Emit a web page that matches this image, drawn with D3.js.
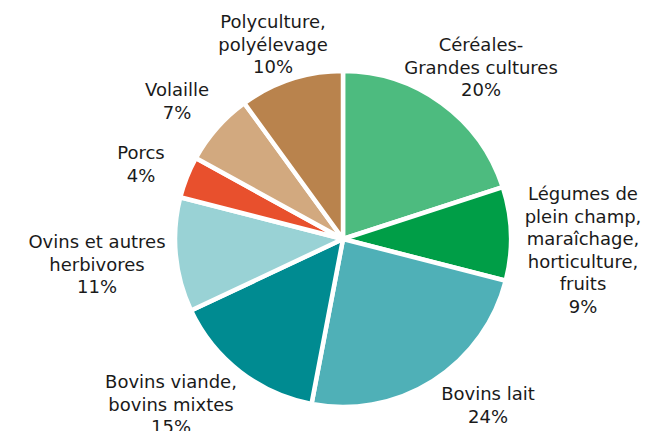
<!DOCTYPE html>
<html><head><meta charset="utf-8">
<script src="https://cdn.jsdelivr.net/npm/d3@7"></script>
<style>
html,body{margin:0;padding:0;background:#fff;}
svg{display:block;}
text{font-family:"DejaVu Sans",Verdana,sans-serif;font-size:18px;fill:#1a1a1a;}
</style></head>
<body>
<svg id="chart" width="663" height="431"></svg>
<script>
const categories = [
  ["Céréales-", "Grandes cultures"],
  ["Légumes de", "plein champ,", "maraîchage,", "horticulture,", "fruits"],
  ["Bovins lait"],
  ["Bovins viande,", "bovins mixtes"],
  ["Ovins et autres", "herbivores"],
  ["Porcs"],
  ["Volaille"],
  ["Polyculture,", "polyélevage"]
];
const values = [20, 9, 24, 15, 11, 4, 7, 10];
const colors = ["#4dbb7f", "#009e47", "#4fb0b7", "#008b91", "#99d2d5", "#e8502d", "#d2a97f", "#b9834d"];

// label layout: centre x and baseline of first line
const labelPos = [[481, 51], [583, 200], [488, 400], [171, 388], [97, 248], [141, 159], [177, 96], [273, 28]];
const lineH = 22.5;

const svg = d3.select("#chart");
const cx = 343, cy = 239, R = 168;
const pie = d3.pie().sort(null).value(d => d)(values);
const arc = d3.arc().innerRadius(0).outerRadius(R);

svg.append("g").attr("transform", `translate(${cx},${cy})`)
  .selectAll("path").data(pie).join("path")
  .attr("d", arc)
  .attr("fill", (d, i) => colors[i])
  .attr("stroke", "#fff")
  .attr("stroke-width", 4.5)
  .attr("stroke-linejoin", "round");

const lg = svg.append("g");
categories.forEach((lines, i) => {
  const t = lg.append("text")
    .attr("x", labelPos[i][0]).attr("y", labelPos[i][1])
    .attr("text-anchor", "middle");
  lines.concat([values[i] + "%"]).forEach((s, j) => {
    t.append("tspan").attr("x", labelPos[i][0]).attr("y", labelPos[i][1] + j * lineH).text(s);
  });
});
</script>
</body></html>
